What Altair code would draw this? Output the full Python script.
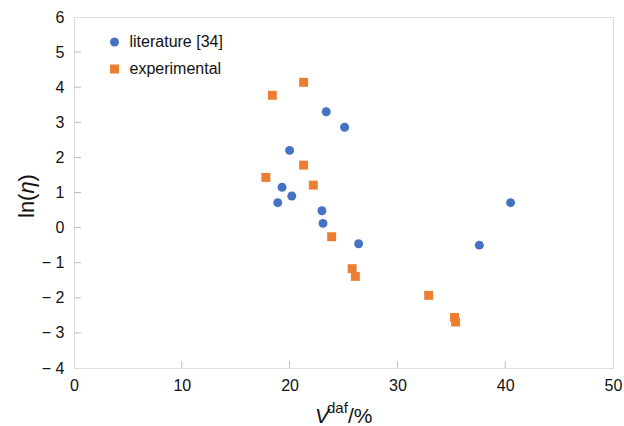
import altair as alt
import pandas as pd

# ---- data ----
series_names = ["literature [34]", "experimental"]
lit_x = [23.4, 25.1, 20.0, 19.3, 18.9, 20.2, 23.0, 23.1, 26.4, 37.6, 40.5]
lit_y = [3.30, 2.86, 2.20, 1.15, 0.71, 0.90, 0.48, 0.12, -0.46, -0.50, 0.71]
exp_x = [18.4, 21.3, 21.3, 17.8, 22.2, 23.9, 25.8, 26.1, 32.9, 35.3, 35.4]
exp_y = [3.77, 4.14, 1.78, 1.43, 1.21, -0.26, -1.17, -1.39, -1.93, -2.56, -2.69]
x_ticks = [0, 10, 20, 30, 40, 50]
y_ticks = [-4, -3, -2, -1, 0, 1, 2, 3, 4, 5, 6]
colors = ["#4472C4", "#ED7D31"]
shapes = ["circle", "square"]

W, H = 539, 351
FONT = "Liberation Sans"
GRAY = "#bdbdbd"

df = pd.DataFrame({
    "x": lit_x + exp_x,
    "y": lit_y + exp_y,
    "series": [series_names[0]] * len(lit_x) + [series_names[1]] * len(exp_x),
})

xscale = alt.Scale(domain=[x_ticks[0], x_ticks[-1]], nice=False, zero=False)
yscale = alt.Scale(domain=[y_ticks[0], y_ticks[-1]], nice=False, zero=False)

xaxis = alt.Axis(values=x_ticks, ticks=False, domain=False, grid=False,
                 labelFontSize=16, labelFont=FONT, labelColor="#111",
                 labelPadding=9, labelOverlap=False, labelFlush=False,
                 labelBound=False)
yaxis = alt.Axis(values=y_ticks, ticks=False, domain=False, grid=False,
                 labelFontSize=16, labelFont=FONT, labelColor="#111",
                 labelPadding=10, labelOverlap=False, labelFlush=False,
                 labelBound=False,
                 labelExpr="datum.value < 0 ? '\u2212 ' + (-datum.value) : datum.label")

leg = dict(title=None, orient="none", legendX=32.5, legendY=17,
           labelFontSize=16, labelFont=FONT, labelColor="#111",
           symbolSize=80, rowPadding=11, labelOffset=7,
           padding=0, symbolStrokeWidth=0, symbolOpacity=1)

points = alt.Chart(df).mark_point(filled=True, opacity=1, size=80, strokeWidth=0).encode(
    x=alt.X("x:Q", scale=xscale, title=None, axis=xaxis),
    y=alt.Y("y:Q", scale=yscale, title=None, axis=yaxis),
    color=alt.Color("series:N", scale=alt.Scale(domain=series_names, range=colors),
                    legend=alt.Legend(**leg)),
    shape=alt.Shape("series:N", scale=alt.Scale(domain=series_names, range=shapes),
                    legend=alt.Legend(**leg)),
)

# inward tick marks
xt = pd.DataFrame({"t": x_ticks[1:-1]})
yt = pd.DataFrame({"t": y_ticks[1:-1]})
xticks = alt.Chart(xt).mark_rule(color=GRAY, strokeWidth=1).encode(
    x=alt.X("t:Q", scale=xscale, title=None, axis=xaxis),
    y=alt.value(H), y2=alt.value(H - 7))
yticks = alt.Chart(yt).mark_rule(color=GRAY, strokeWidth=1).encode(
    y=alt.Y("t:Q", scale=yscale, title=None, axis=yaxis),
    x=alt.value(0), x2=alt.value(7))

one = alt.Data(values=[{}])

def txt(s, x, y, size, style="normal", angle=0, baseline="alphabetic"):
    return alt.Chart(one).mark_text(
        text=s, font=FONT, fontSize=size, fontStyle=style, angle=angle,
        align="left", baseline=baseline, color="#111"
    ).encode(x=alt.value(x), y=alt.value(y))

# y title: ln(η)
yt1 = txt("ln(", -40, 201, 22, angle=270)
yt2 = txt("\u03b7", -40, 176.6, 22, style="italic", angle=270)
yt3 = txt(")", -40, 164.4, 22, angle=270)
# x title: V^daf/%
xt1 = txt("V", 241, 406, 21, style="italic")
xt2 = txt("daf", 253, 396, 15)
xt3 = txt("/%", 274, 406, 21)

chart = alt.layer(points, xticks, yticks, yt1, yt2, yt3, xt1, xt2, xt3).properties(
    width=W, height=H,
    autosize=alt.AutoSizeParams(type="none"),
    padding={"left": 74, "top": 17, "right": 11, "bottom": 58},
).configure_view(stroke=GRAY, strokeWidth=1.5).configure(background="white")

chart.save("out.html", embed_options={"renderer": "svg", "actions": False})
